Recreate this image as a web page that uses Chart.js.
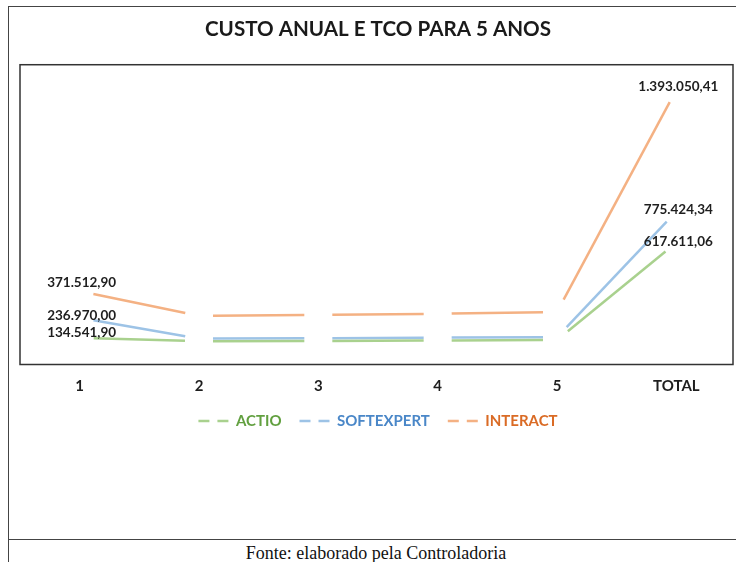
<!DOCTYPE html>
<html>
<head>
<meta charset="utf-8">
<script src="https://cdn.jsdelivr.net/npm/chart.js@4/dist/chart.umd.min.js"></script>
<style>
  body { margin: 0; background: #fff; }
  #wrap { position: relative; width: 736px; height: 562px; overflow: hidden; }
  #frame { position: absolute; left: 7.5px; top: 6px; width: 800px; height: 600px;
           border-left: 1.5px solid #444; border-top: 1.5px solid #444; }
  #sep { position: absolute; left: 8px; top: 539px; width: 800px; border-top: 1.5px solid #444; }
  #chart { position: absolute; left: 0; top: 0; }
  #fonte { position: absolute; left: 0; width: 752px; top: 543px; text-align: center;
           font-family: "Liberation Serif", serif; font-size: 18px; color: #111; }
</style>
</head>
<body>
<div id="wrap">
  <div id="frame"></div>
  <div id="sep"></div>
  <canvas id="chart" width="736" height="540"></canvas>
  <div id="fonte">Fonte: elaborado pela Controladoria</div>
</div>
<script>
// anos + total (TCO)
const categorias = ['1', '2', '3', '4', '5', 'TOTAL'];
const actio      = [134541.90, 118000, 119500, 121500, 124069.16, 617611.06];
const softexpert = [236970.00, 131000, 133000, 136000, 138454.34, 775424.34];
const interact   = [371512.90, 247000, 251000, 257000, 266537.51, 1393050.41];
// pontos com rótulo (ano 1 e total)
const rotulados = [0, 5];

const GAP = 28;

function fmtBR(v) {
    const partes = v.toFixed(2).split('.');
    return partes[0].replace(/\B(?=(\d{3})+(?!\d))/g, '.') + ',' + partes[1];
}

function serie(nome, dados, cor, corTexto, lift) {
    return {
        label: nome,
        data: dados,
        borderColor: cor,
        backgroundColor: cor,
        borderWidth: 2.5,
        pointRadius: 0,
        tension: 0,
        fill: false,
        corTexto: corTexto,
        lift: lift,
        segment: {
            borderDash: ctx => {
                const len = Math.hypot(ctx.p1.x - ctx.p0.x, ctx.p1.y - ctx.p0.y);
                return [Math.max(len - GAP, 1), GAP];
            },
            borderDashOffset: () => -GAP / 2
        }
    };
}

// caixa da área do gráfico
const caixa = {
    id: 'caixa',
    beforeDraw(chart) {
        const a = chart.chartArea, c = chart.ctx;
        c.save();
        c.strokeStyle = '#333';
        c.lineWidth = 1.5;
        c.strokeRect(a.left, a.top, a.right - a.left - 3, a.bottom - a.top);
        c.restore();
    }
};

// rótulos de dados
const rotulos = {
    id: 'rotulos',
    afterDatasetsDraw(chart) {
        const c = chart.ctx;
        c.save();
        c.font = 'bold 13.5px Lato';
        c.fillStyle = '#1e1e1e';
        c.textAlign = 'center';
        c.textBaseline = 'middle';
        chart.data.datasets.forEach((ds, i) => {
            const meta = chart.getDatasetMeta(i);
            rotulados.forEach((idx, k) => {
                const p = meta.data[idx];
                c.fillText(fmtBR(ds.data[idx]), p.x + 2, p.y + ds.lift[k]);
            });
        });
        c.restore();
    }
};

new Chart(document.getElementById('chart'), {
    type: 'line',
    data: {
        labels: categorias,
        datasets: [
            serie('ACTIO', actio, '#A9D18E', '#62A040', [-5, -1]),
            serie('SOFTEXPERT', softexpert, '#9DC3E6', '#4A87C8', [-2, -2]),
            serie('INTERACT', interact, '#F4B183', '#DA6B25', [-9, -3])
        ]
    },
    options: {
        responsive: false,
        animation: false,
        layout: { padding: { left: 20, right: 0, top: 0, bottom: 101.5 } },
        scales: {
            x: {
                offset: true,
                grid: { display: false, drawTicks: false },
                border: { display: false },
                ticks: { color: '#1e1e1e', padding: 12.5, font: { family: 'Lato', size: 15, weight: 'bold' } },
                afterFit(scale) { scale.height = 31; }
            },
            y: { display: false, min: 0, max: 1520000 }
        },
        plugins: {
            title: {
                display: true,
                text: 'CUSTO ANUAL E TCO PARA 5 ANOS',
                color: '#1a1a1a',
                font: { family: 'Lato', size: 20.6, weight: 'bold' },
                padding: { top: 17, bottom: 23 }
            },
            legend: {
                position: 'bottom',
                labels: {
                    usePointStyle: true,
                    pointStyleWidth: 30,
                    boxWidth: 30,
                    boxHeight: 12,
                    padding: 18,
                    font: { family: 'Lato', size: 15, weight: 'bold' },
                    generateLabels(chart) {
                        return chart.data.datasets.map((ds, i) => ({
                            text: ds.label,
                            fillStyle: ds.borderColor,
                            strokeStyle: ds.borderColor,
                            fontColor: ds.corTexto,
                            lineWidth: 2.5,
                            lineDash: [11, 8],
                            pointStyle: 'line',
                            datasetIndex: i
                        }));
                    }
                }
            },
            tooltip: { enabled: false }
        }
    },
    plugins: [caixa, rotulos]
});
</script>
</body>
</html>
